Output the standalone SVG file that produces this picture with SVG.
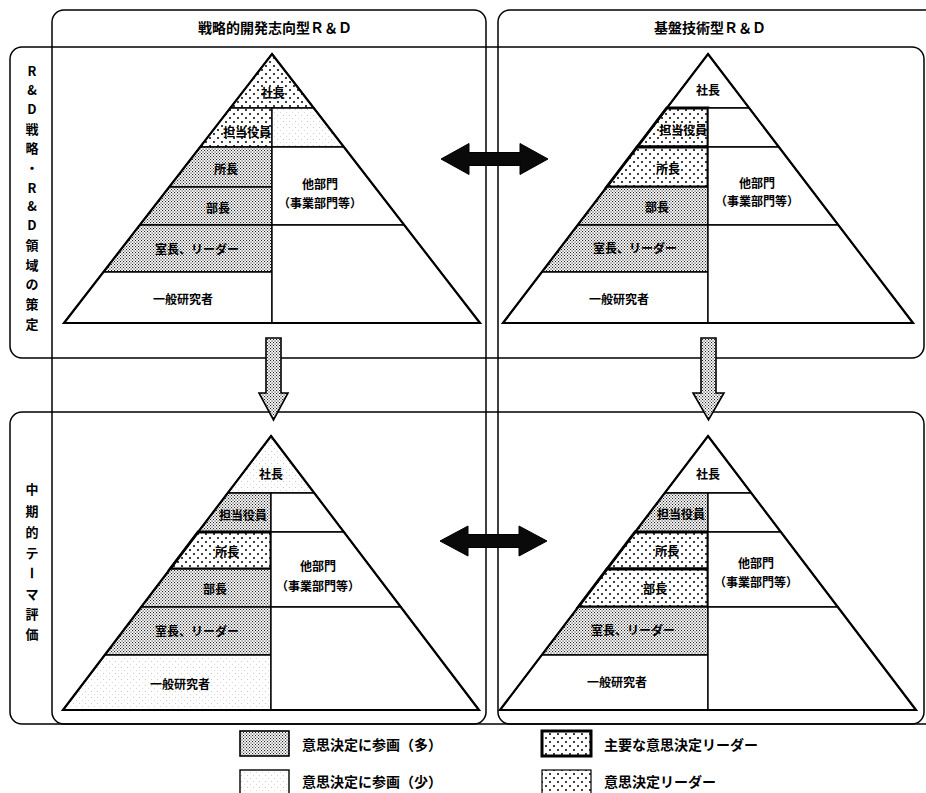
<svg xmlns="http://www.w3.org/2000/svg" width="926" height="793" viewBox="0 0 926 793">
<defs>
<pattern id="dense" patternUnits="userSpaceOnUse" width="3" height="3">
<rect width="3" height="3" fill="#fff"/>
<rect x="0" y="0" width="1.1" height="1.1" fill="#222"/>
<rect x="1.5" y="1.5" width="1.1" height="1.1" fill="#222"/>
</pattern>
<pattern id="light" patternUnits="userSpaceOnUse" width="6" height="6">
<rect width="6" height="6" fill="#fff"/>
<rect x="1" y="1" width="1" height="1" fill="#c8c8c8"/>
<rect x="4" y="4" width="1" height="1" fill="#d8d8d8"/>
</pattern>
<pattern id="dots" patternUnits="userSpaceOnUse" width="8" height="8">
<rect width="8" height="8" fill="#fff"/>
<circle cx="2" cy="2" r="1" fill="#000"/>
<circle cx="6" cy="6" r="1" fill="#000"/>
</pattern>
</defs>
<style>
.frame{fill:none;stroke:#000;stroke-width:1.5}
.cell{stroke:#000;stroke-width:1.4;stroke-linejoin:miter}
.dense{fill:url(#dense)}
.light{fill:url(#light)}
.dots{fill:url(#dots)}
.white{fill:#fff}
.major{stroke-width:2.8}
.outline{fill:none;stroke:#000;stroke-width:2.2;stroke-linejoin:miter}
.lbl{font-family:"Noto Sans CJK JP","Noto Sans",sans-serif;font-size:12px;font-weight:700;text-anchor:middle;dominant-baseline:central;fill:#000}
.hdr{font-family:"Noto Sans CJK JP","Noto Sans",sans-serif;font-size:14px;font-weight:700;text-anchor:middle;dominant-baseline:central;fill:#000}
.side{font-family:"Noto Sans CJK JP","Noto Sans",sans-serif;font-size:13px;font-weight:700;text-anchor:middle;dominant-baseline:central;fill:#000}
.leg{font-family:"Noto Sans CJK JP","Noto Sans",sans-serif;font-size:14px;font-weight:700;dominant-baseline:central;fill:#000}
.arrowH{fill:#0a0a0a;stroke:#000;stroke-width:1}
.arrowV{fill:url(#dense);stroke:#000;stroke-width:1.6;stroke-linejoin:miter}
</style>
<rect width="926" height="793" fill="#fff"/>

<g id="frames">
<rect class="frame" x="52" y="10" width="434" height="714" rx="12"/>
<rect class="frame" x="498" y="10" width="440" height="714" rx="12"/>
<rect class="frame" x="10" y="47" width="914" height="311" rx="12"/>
<rect class="frame" x="10" y="412" width="914" height="312" rx="12"/>
</g>

<g id="col-headers">
<text class="hdr" x="275" y="27">戦略的開発志向型Ｒ＆Ｄ</text>
<text class="hdr" x="710" y="27">基盤技術型Ｒ＆Ｄ</text>
</g>

<g id="row-label-1">
<text class="side" x="32" y="70">R</text>
<text class="side" x="32" y="89">&amp;</text>
<text class="side" x="32" y="108">D</text>
<text class="side" x="32" y="128">戦</text>
<text class="side" x="32" y="147">略</text>
<text class="side" x="32" y="167">・</text>
<text class="side" x="32" y="187">R</text>
<text class="side" x="32" y="205">&amp;</text>
<text class="side" x="32" y="224">D</text>
<text class="side" x="32" y="244">領</text>
<text class="side" x="32" y="264">域</text>
<text class="side" x="32" y="283">の</text>
<text class="side" x="32" y="303">策</text>
<text class="side" x="32" y="323">定</text>
</g>
<g id="row-label-2">
<text class="side" x="32" y="488">中</text>
<text class="side" x="32" y="510">期</text>
<text class="side" x="32" y="531">的</text>
<text class="side" x="32" y="552">テ</text>
<text class="side" x="32" y="573" transform="rotate(90 32 573)">ー</text>
<text class="side" x="32" y="593">マ</text>
<text class="side" x="32" y="613">評</text>
<text class="side" x="32" y="633">価</text>
</g>

<g id="pyramid-top-left">
<polygon class="cell dots" points="272,54 313.8,108 230.2,108"/>
<polygon class="cell dots" points="230.2,108 272,108 272,147 200.1,147"/>
<polygon class="cell dense" points="200.1,147 272,147 272,187 169.2,187"/>
<polygon class="cell dense" points="169.2,187 272,187 272,225 139.8,225"/>
<polygon class="cell dense" points="139.8,225 272,225 272,272 103.4,272"/>
<polygon class="cell white" points="103.4,272 272,272 272,323 64,323"/>
<polygon class="cell light" points="272,108 313.8,108 343.9,147 272,147"/>
<polygon class="cell white" points="272,147 343.9,147 404.2,225 272,225"/>
<polygon class="cell white" points="272,225 404.2,225 480,323 272,323"/>
<polygon class="outline" points="272,54 480,323 64,323"/>
<text class="lbl" x="273" y="92">社長</text>
<text class="lbl" x="247" y="131">担当役員</text>
<text class="lbl" x="226" y="168">所長</text>
<text class="lbl" x="218" y="207">部長</text>
<text class="lbl" x="197" y="248">室長、リーダー</text>
<text class="lbl" x="183" y="298">一般研究者</text>
<text class="lbl" x="320" y="183">他部門</text>
<text class="lbl" x="320" y="202">（事業部門等）</text>
</g>

<g id="pyramid-top-right">
<polygon class="cell white" points="708,54 749.2,108 666.8,108"/>
<polygon class="cell dots major" points="666.8,108 708,108 708,147 637.1,147"/>
<polygon class="cell dots major" points="637.1,147 708,147 708,187 606.6,187"/>
<polygon class="cell dense" points="606.6,187 708,187 708,225 577.7,225"/>
<polygon class="cell dense" points="577.7,225 708,225 708,272 541.9,272"/>
<polygon class="cell white" points="541.9,272 708,272 708,323 503,323"/>
<polygon class="cell white" points="708,108 749.2,108 778.9,147 708,147"/>
<polygon class="cell white" points="708,147 778.9,147 838.3,225 708,225"/>
<polygon class="cell white" points="708,225 838.3,225 913,323 708,323"/>
<polygon class="outline" points="708,54 913,323 503,323"/>
<text class="lbl" x="708" y="89">社長</text>
<text class="lbl" x="683" y="129">担当役員</text>
<text class="lbl" x="668" y="168">所長</text>
<text class="lbl" x="657" y="206">部長</text>
<text class="lbl" x="635" y="247">室長、リーダー</text>
<text class="lbl" x="619" y="298">一般研究者</text>
<text class="lbl" x="757" y="182">他部門</text>
<text class="lbl" x="757" y="200">（事業部門等）</text>
</g>

<g id="pyramid-bottom-left">
<polygon class="cell light" points="271,436 314.3,493 227.7,493"/>
<polygon class="cell dense" points="227.7,493 271,493 271,532 198.1,532"/>
<polygon class="cell dots major" points="198.1,532 271,532 271,569 170,569"/>
<polygon class="cell dense" points="170,569 271,569 271,607 141.2,607"/>
<polygon class="cell dense" points="141.2,607 271,607 271,655 104.8,655"/>
<polygon class="cell light" points="104.8,655 271,655 271,710 63,710"/>
<polygon class="cell white" points="271,493 314.3,493 343.9,532 271,532"/>
<polygon class="cell white" points="271,532 343.9,532 400.8,607 271,607"/>
<polygon class="cell white" points="271,607 400.8,607 479,710 271,710"/>
<polygon class="outline" points="271,436 479,710 63,710"/>
<text class="lbl" x="271" y="473">社長</text>
<text class="lbl" x="243" y="514">担当役員</text>
<text class="lbl" x="227" y="551">所長</text>
<text class="lbl" x="215" y="588">部長</text>
<text class="lbl" x="197" y="630">室長、リーダー</text>
<text class="lbl" x="180" y="683">一般研究者</text>
<text class="lbl" x="318" y="565">他部門</text>
<text class="lbl" x="318" y="585">（事業部門等）</text>
</g>

<g id="pyramid-bottom-right">
<polygon class="cell white" points="708,436 751.3,493 664.7,493"/>
<polygon class="cell dense" points="664.7,493 708,493 708,532 635.1,532"/>
<polygon class="cell dots major" points="635.1,532 708,532 708,569 607,569"/>
<polygon class="cell dots major" points="607,569 708,569 708,607 578.2,607"/>
<polygon class="cell dense" points="578.2,607 708,607 708,655 541.8,655"/>
<polygon class="cell white" points="541.8,655 708,655 708,710 500,710"/>
<polygon class="cell white" points="708,493 751.3,493 780.9,532 708,532"/>
<polygon class="cell white" points="708,532 780.9,532 837.8,607 708,607"/>
<polygon class="cell white" points="708,607 837.8,607 916,710 708,710"/>
<polygon class="outline" points="708,436 916,710 500,710"/>
<text class="lbl" x="708" y="473">社長</text>
<text class="lbl" x="681" y="513">担当役員</text>
<text class="lbl" x="667" y="550">所長</text>
<text class="lbl" x="655" y="588">部長</text>
<text class="lbl" x="633" y="629">室長、リーダー</text>
<text class="lbl" x="617" y="681">一般研究者</text>
<text class="lbl" x="756" y="562">他部門</text>
<text class="lbl" x="756" y="581">（事業部門等）</text>
</g>

<g id="connectors">
<polygon class="arrowH" points="441,159 469,143.5 469,152.5 520,152.5 520,143.5 548,159 520,174.5 520,165.5 469,165.5 469,174.5"/>
<polygon class="arrowH" points="440,541 468,526 468,534.5 519,534.5 519,526 547,541 519,556 519,547.5 468,547.5 468,556"/>
<polygon class="arrowV" points="266,338 281,338 281,393 288,393 273.5,420 259,393 266,393"/>
<polygon class="arrowV" points="701,338 716,338 716,393 724,393 708.5,420 693,393 701,393"/>
</g>

<g id="legend">
<g id="legend-many">
<rect x="240" y="731" width="49" height="25" fill="url(#dense)" stroke="#000" stroke-width="1.6"/>
<text class="leg" x="302" y="744">意思決定に参画（多）</text>
</g>
<g id="legend-few">
<rect x="240" y="770" width="49" height="25" fill="url(#light)" stroke="#000" stroke-width="1.4"/>
<text class="leg" x="302" y="781">意思決定に参画（少）</text>
</g>
<g id="legend-major-leader">
<rect x="542" y="731" width="49" height="25" fill="url(#dots)" stroke="#000" stroke-width="3"/>
<text class="leg" x="604" y="744">主要な意思決定リーダー</text>
</g>
<g id="legend-leader">
<rect x="542" y="770" width="49" height="25" fill="url(#dots)" stroke="#000" stroke-width="1.2"/>
<text class="leg" x="604" y="781">意思決定リーダー</text>
</g>
</g>
</svg>
